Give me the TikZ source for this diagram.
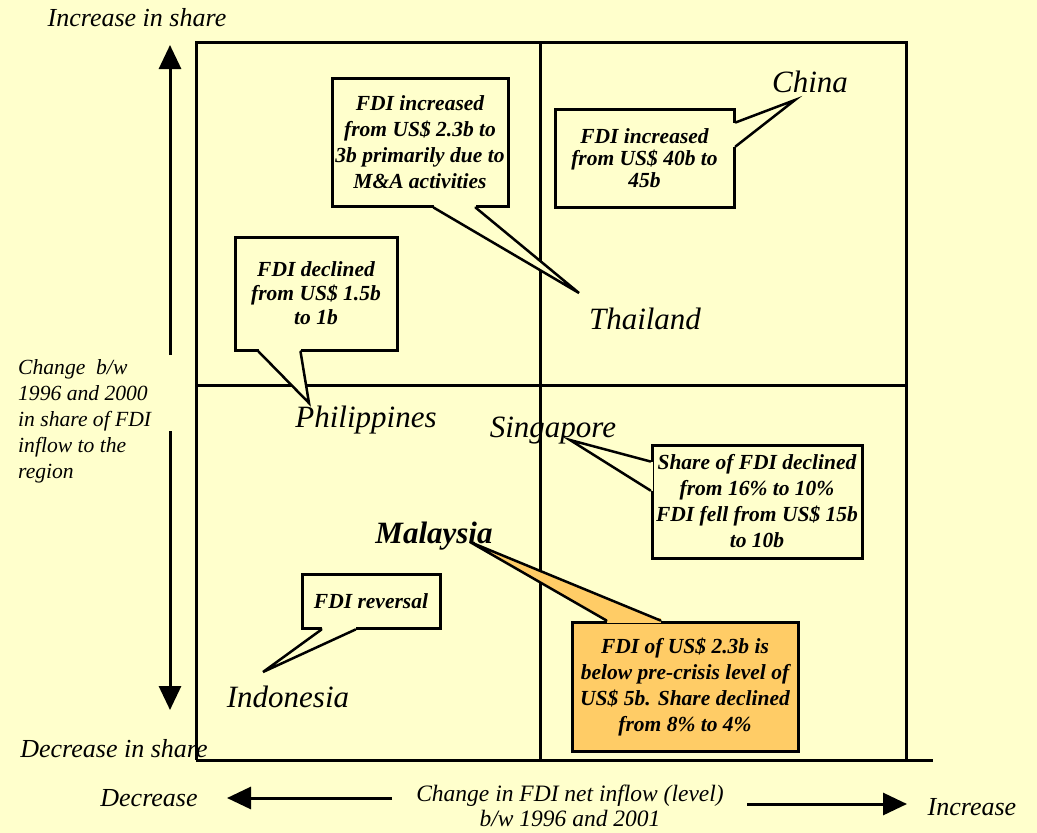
\documentclass[tikz,border=0pt]{standalone}
\usepackage{fontspec}
\setmainfont{Liberation Serif}
\usepackage{tikz}
\usetikzlibrary{arrows.meta, calc}
\definecolor{bgYellow}{RGB}{255,255,204}
\definecolor{boxOrange}{RGB}{255,204,102}

\begin{document}
\begin{tikzpicture}[x=1pt, y=-1pt,
    grid/.style={line width=3pt},
    axisarrow/.style={line width=3pt, -{Triangle[width=22pt, length=24pt]}},
    bubble/.style={draw, line width=3pt, fill=bgYellow, align=center, inner sep=2pt,
        font=\fontsize{21.5}{26}\selectfont\bfseries\itshape},
    tail/.style={line width=2.5pt, line cap=round},
    country/.style={inner sep=0pt, anchor=base, font=\fontsize{31}{36}\selectfont\itshape},
    axislabel/.style={inner sep=0pt, anchor=base, font=\fontsize{26}{31}\selectfont\itshape}]

% Fond
\useasboundingbox (0,0) rectangle (1037,833);
\fill[bgYellow] (0,0) rectangle (1037,833);

% Quadrants
\draw[grid] (196,760) -- (196,42) -- (906,42) -- (906,760);
\draw[grid] (196,760) -- (933,760);
\draw[grid] (540,42) -- (540,760);
\draw[grid] (196,385) -- (906,385);

% Axe vertical
\coordinate (upStart) at (170,355);
\coordinate (upEnd) at (170,45);
\coordinate (downStart) at (170,431);
\coordinate (downEnd) at (170,710);
\draw[axisarrow] (upStart) -- (upEnd);
\draw[axisarrow] (downStart) -- (downEnd);
\node[axislabel] (incShare) at (137,26) {Increase in share};
\node[axislabel] (decShare) at (114,757) {Decrease in share};
\node[inner sep=0pt, anchor=west, align=left, font=\fontsize{21.6}{26}\selectfont\itshape]
    (shareLabel) at (18,421) {Change~ b/w\\1996 and 2000\\in share of FDI\\inflow to the\\region};

% Axe horizontal
\coordinate (leftStart) at (392,798);
\coordinate (leftEnd) at (227,798);
\coordinate (rightStart) at (747,804);
\coordinate (rightEnd) at (907,804);
\draw[axisarrow] (leftStart) -- (leftEnd);
\draw[axisarrow] (rightStart) -- (rightEnd);
\node[axislabel] (decLevel) at (149,806) {Decrease};
\node[axislabel] (incLevel) at (972,815) {Increase};
\node[inner sep=0pt, align=center, font=\fontsize{23.5}{25}\selectfont\itshape]
    (levelLabel) at (570,806) {Change in FDI net inflow (level)\\b/w 1996 and 2001};

% Pays
\node[country] (china) at (810,92) {China};
\node[country] (thailand) at (645,329) {Thailand};
\node[country] (philippines) at (366,427) {Philippines};
\node[country] (singapore) at (553,437) {Singapore};
\node[country, font=\fontsize{31}{36}\selectfont\bfseries\itshape] (malaysia) at (434,543) {Malaysia};
\node[country] (indonesia) at (288,707) {Indonesia};

% Bulle Thailand
\node[bubble, minimum width=176pt, minimum height=128pt] (thBox) at (420,142)
    {FDI increased\\from US\$ 2.3b to\\3b primarily due to\\M\&A activities};
\coordinate (thA) at ($(thBox.south west)+(103,0)$);
\coordinate (thB) at ($(thBox.south west)+(145,0)$);
\coordinate (thTip) at (579,293);
\draw[line width=4.5pt, bgYellow] (thA) -- (thB);
\fill[bgYellow] (thA) -- (thTip) -- (thB) -- cycle;
\draw[tail] (thA) -- (thTip) -- (thB);

% Bulle China
\node[bubble, minimum width=179pt, minimum height=98pt,
    font=\fontsize{21.5}{22}\selectfont\bfseries\itshape] (chBox) at (644.5,158)
    {FDI increased\\from US\$ 40b to\\45b};
\coordinate (chA) at ($(chBox.north east)+(0,15)$);
\coordinate (chB) at ($(chBox.north east)+(0,39)$);
\coordinate (chTip) at (795,100);
\draw[line width=4.5pt, bgYellow] (chA) -- (chB);
\fill[bgYellow] (chA) -- (chTip) -- (chB) -- cycle;
\draw[tail] (chA) -- (chTip) -- (chB);

% Bulle Philippines
\node[bubble, minimum width=162pt, minimum height=113pt,
    font=\fontsize{21.5}{24}\selectfont\bfseries\itshape] (phBox) at (316,293.5)
    {FDI declined\\from US\$ 1.5b\\to 1b};
\coordinate (phA) at ($(phBox.south west)+(25,0)$);
\coordinate (phB) at ($(phBox.south west)+(67,0)$);
\coordinate (phTip) at (309,403);
\draw[line width=4.5pt, bgYellow] (phA) -- (phB);
\fill[bgYellow] (phA) -- (phTip) -- (phB) -- cycle;
\draw[tail] (phA) -- (phTip) -- (phB);

% Bulle Singapore
\node[bubble, minimum width=210pt, minimum height=113pt] (sgBox) at (757,501.5)
    {Share of FDI declined\\from 16\% to 10\%\\FDI fell from US\$ 15b\\to 10b};
\coordinate (sgA) at ($(sgBox.north west)+(0,18)$);
\coordinate (sgB) at ($(sgBox.north west)+(0,47)$);
\coordinate (sgTip) at (570,440);
\draw[line width=4.5pt, bgYellow] (sgA) -- (sgB);
\fill[bgYellow] (sgA) -- (sgTip) -- (sgB) -- cycle;
\draw[tail] (sgA) -- (sgTip) -- (sgB);

% Bulle Malaysia
\node[bubble, fill=boxOrange, minimum width=226pt, minimum height=129pt] (myBox) at (685,686.5)
    {FDI of US\$ 2.3b is\\below pre-crisis level of\\US\$ 5b. Share declined\\from 8\% to 4\%};
\coordinate (myA) at ($(myBox.north west)+(36,0)$);
\coordinate (myB) at ($(myBox.north west)+(90,0)$);
\coordinate (myTip) at (470,542);
\draw[line width=4.5pt, boxOrange] (myA) -- (myB);
\fill[boxOrange] (myA) -- (myTip) -- (myB) -- cycle;
\draw[tail] (myA) -- (myTip) -- (myB);

% Bulle Indonesia
\node[bubble, minimum width=138pt, minimum height=54pt] (idBox) at (371,601) {FDI reversal};
\coordinate (idA) at ($(idBox.south west)+(21,0)$);
\coordinate (idB) at ($(idBox.south west)+(55,0)$);
\coordinate (idTip) at (263,672);
\draw[line width=4.5pt, bgYellow] (idA) -- (idB);
\fill[bgYellow] (idA) -- (idTip) -- (idB) -- cycle;
\draw[tail] (idA) -- (idTip) -- (idB);

\end{tikzpicture}
\end{document}
